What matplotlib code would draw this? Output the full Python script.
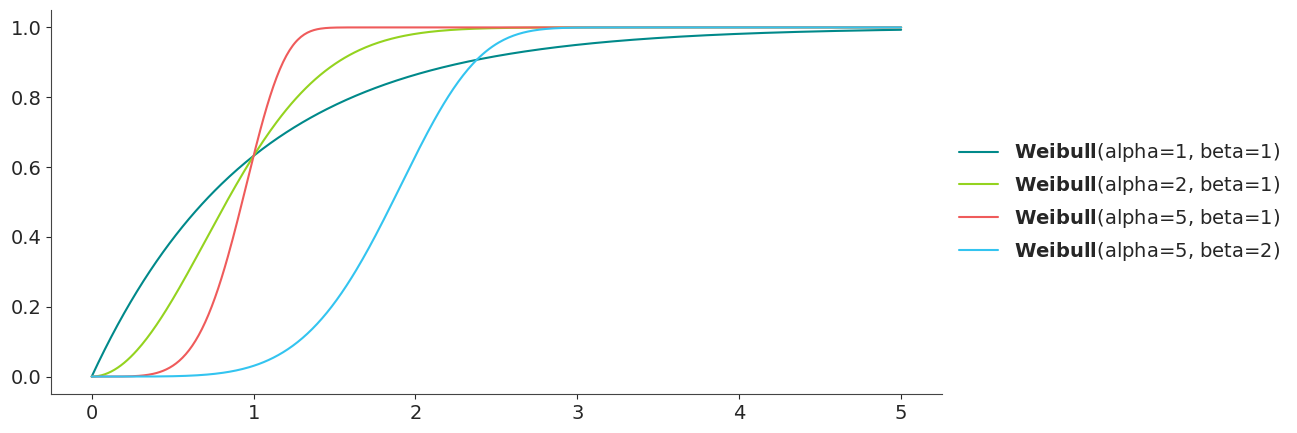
import numpy as np
import matplotlib.pyplot as plt
import seaborn as sns

sns.set_style('ticks')
plt.rcParams['font.family'] = ['DejaVu Sans']

# Weibull parameters as given in the legend
alphas = [1, 2, 5, 5]
betas = [1, 1, 1, 2]
colors = ['#00898a', '#94d31f', '#ef5b5b', '#33c4f0']

x = np.linspace(0, 5, 500)

fig = plt.figure(figsize=(12.97, 4.33), dpi=100)
ax = fig.add_axes([0.0395, 0.090, 0.6865, 0.887])

for a, b, c in zip(alphas, betas, colors):
    cdf = 1 - np.exp(-(x / b) ** a)
    ax.plot(x, cdf, color=c, lw=1.5,
            label=r'$\bf{Weibull}$' + f'(alpha={a}, beta={b})')

ax.set_xticks([0, 1, 2, 3, 4, 5])
ax.set_yticks([0.0, 0.2, 0.4, 0.6, 0.8, 1.0])
ax.tick_params(labelsize=14, colors='#262626')
for s in ['left', 'bottom']:
    ax.spines[s].set_color('#444444')
sns.despine(ax=ax)

leg = ax.legend(loc='center left', bbox_to_anchor=(1.0, 0.5), frameon=False,
                fontsize=14, handlelength=2.0, labelspacing=0.5)
for t in leg.get_texts():
    t.set_color('#262626')

fig.savefig('out.png', dpi=100)
